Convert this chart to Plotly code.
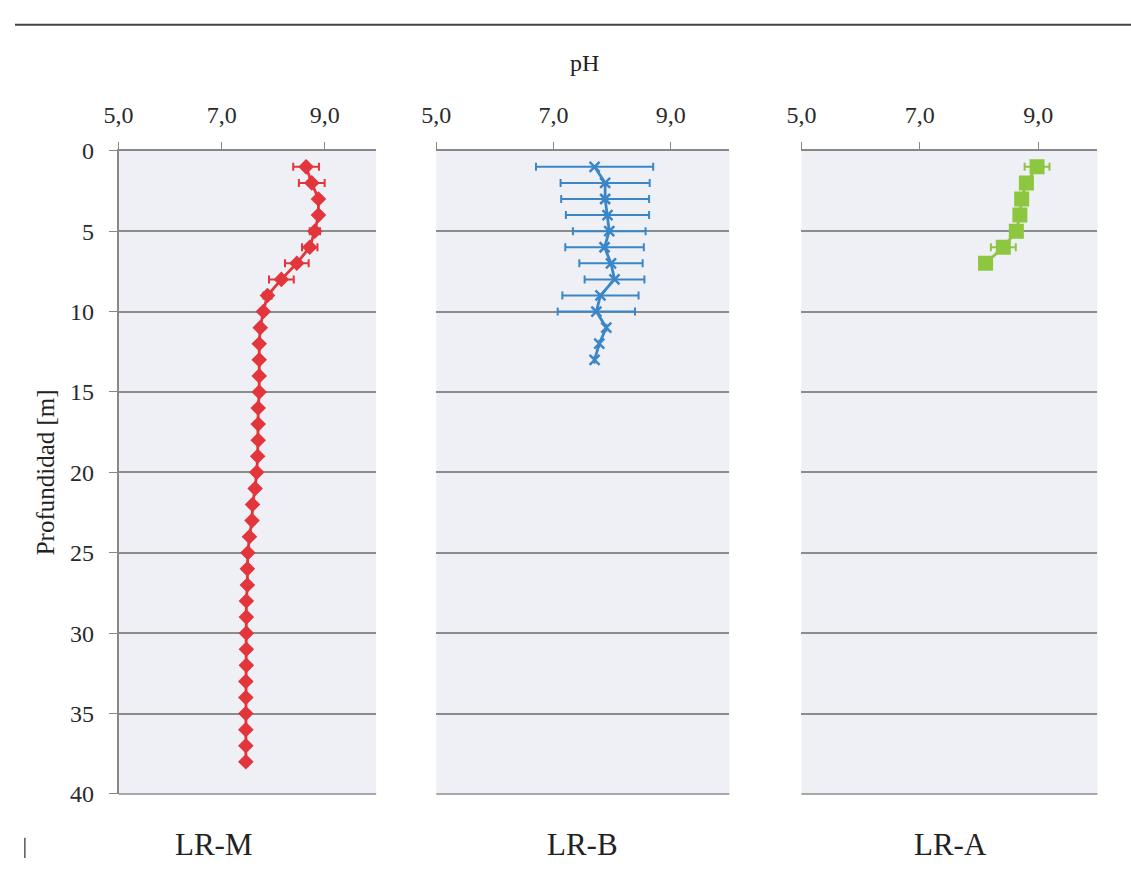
import plotly.graph_objects as go

# ---------------- data ----------------
depth_m = list(range(1, 39))
ph_m = [8.64, 8.75, 8.88, 8.88, 8.81, 8.71, 8.46, 8.16, 7.89, 7.81,
        7.75, 7.73, 7.73, 7.73, 7.73, 7.71, 7.71, 7.71, 7.70, 7.68,
        7.65, 7.60, 7.59, 7.54, 7.51, 7.50, 7.50, 7.48, 7.48, 7.48,
        7.48, 7.48, 7.47, 7.47, 7.47, 7.47, 7.47, 7.47]
err_m = [0.25, 0.25, 0.05, 0.05, 0.10, 0.15, 0.23, 0.24, 0.08] + [0.0] * 29

depth_b = list(range(1, 14))
ph_b = [7.70, 7.88, 7.88, 7.92, 7.95, 7.87, 7.98, 8.04, 7.80, 7.73, 7.90, 7.78, 7.70]
err_b = [1.00, 0.76, 0.75, 0.71, 0.62, 0.67, 0.54, 0.51, 0.65, 0.66, 0.0, 0.0, 0.0]

depth_a = list(range(1, 8))
ph_a = [8.98, 8.80, 8.72, 8.69, 8.63, 8.41, 8.11]
err_a = [0.21, 0.0, 0.0, 0.0, 0.0, 0.21, 0.0]

x_tickvals = [5, 7, 9]
x_ticktext = ["5,0", "7,0", "9,0"]
y_tickvals = [0, 5, 10, 15, 20, 25, 30, 35, 40]
panel_names = ["LR-M", "LR-B", "LR-A"]

# ---------------- style ----------------
RED = "#e2363c"
BLUE = "#3b86c8"
GREEN = "#8dc63f"
FONT = "Liberation Serif"
W, H = 1131, 871

fig = go.Figure()

fig.add_trace(go.Scatter(
    x=ph_m, y=depth_m, mode="lines+markers", xaxis="x", yaxis="y",
    line=dict(color=RED, width=2.8),
    marker=dict(symbol="diamond", size=12, color=RED),
    error_x=dict(type="data", array=err_m, color=RED, thickness=2, width=4),
    showlegend=False))

fig.add_trace(go.Scatter(
    x=ph_b, y=depth_b, mode="lines+markers", xaxis="x2", yaxis="y2",
    line=dict(color=BLUE, width=2.8),
    marker=dict(symbol="x-thin", size=10, color=BLUE, line=dict(color=BLUE, width=2.5)),
    error_x=dict(type="data", array=err_b, color=BLUE, thickness=2, width=4),
    showlegend=False))

fig.add_trace(go.Scatter(
    x=ph_a, y=depth_a, mode="lines+markers", xaxis="x3", yaxis="y3",
    line=dict(color=GREEN, width=2.8),
    marker=dict(symbol="square", size=15, color=GREEN),
    error_x=dict(type="data", array=err_a, color=GREEN, thickness=2, width=4),
    showlegend=False))

x_domains = [[105 / W, 366 / W], [427 / W, 724 / W], [797 / W, 1097 / W]]
y_domain = [1 - 805 / H, 1 - 142 / H]

tickfont = dict(family=FONT, size=24, color="#2a2a2a")

for i, dom in enumerate(x_domains):
    sfx = "" if i == 0 else str(i + 1)
    fig.update_layout(**{
        "xaxis" + sfx: dict(
            domain=dom, range=[5, 10], side="top", anchor="y" + sfx,
            tickvals=x_tickvals, ticktext=x_ticktext, tickfont=tickfont,
            ticks="outside", ticklen=7, tickcolor="#888", tickwidth=1,
            ticklabelstandoff=9,
            showline=True, linecolor="#888", linewidth=1.5, mirror=False,
            showgrid=False, zeroline=False, fixedrange=True),
        "yaxis" + sfx: dict(
            domain=y_domain, range=[40, 0], anchor="x" + sfx,
            tickvals=y_tickvals, tickfont=tickfont,
            showticklabels=(i == 0),
            ticks="outside" if i == 0 else "", ticklen=8, tickcolor="#888",
            ticklabelstandoff=10,
            showline=(i == 0), linecolor="#888", linewidth=1.5,
            showgrid=True, gridcolor="#8c8c8c", gridwidth=1.5,
            zeroline=False, fixedrange=True,
            title=dict(text="Profundidad [m]", font=dict(family=FONT, size=25, color="#222"),
                       standoff=8) if i == 0 else None),
    })

shapes = []
for dom in x_domains:
    shapes.append(dict(type="rect", xref="paper", yref="paper",
                       x0=dom[0], x1=dom[1], y0=y_domain[0], y1=y_domain[1],
                       fillcolor="#eef0f5", line=dict(width=0), layer="below"))
    shapes.append(dict(type="line", xref="paper", yref="paper",
                       x0=dom[0], x1=dom[1], y0=y_domain[0], y1=y_domain[0],
                       line=dict(color="#8c8c8c", width=1.5)))
shapes.append(dict(type="line", xref="paper", yref="paper",
                   x0=0, x1=1, y0=1 - 12 / H, y1=1 - 12 / H,
                   line=dict(color="#444", width=2)))
shapes.append(dict(type="line", xref="paper", yref="paper",
                   x0=10 / W, x1=10 / W, y0=0, y1=1 - 850 / H,
                   line=dict(color="#555", width=1.5)))

annotations = [dict(text="pH", x=577 / W, y=1 - 52 / H, xref="paper", yref="paper",
                    xanchor="center", yanchor="middle",
                    showarrow=False, font=dict(family=FONT, size=24, color="#222"))]
for name, cx in zip(panel_names, [202, 575, 948]):
    annotations.append(dict(text=name, x=cx / W, y=1 - 857 / H, xref="paper", yref="paper",
                            xanchor="center", yanchor="middle",
                            showarrow=False, font=dict(family=FONT, size=31, color="#222")))

fig.update_layout(
    width=W, height=H,
    margin=dict(l=0, r=0, t=0, b=0),
    paper_bgcolor="white", plot_bgcolor="rgba(0,0,0,0)",
    shapes=shapes, annotations=annotations,
    font=dict(family=FONT),
)

fig.write_html(
    "out.html",
    post_script="document.body.style.margin='0';document.body.style.padding='0';"
                "document.body.style.overflow='hidden';",
)
